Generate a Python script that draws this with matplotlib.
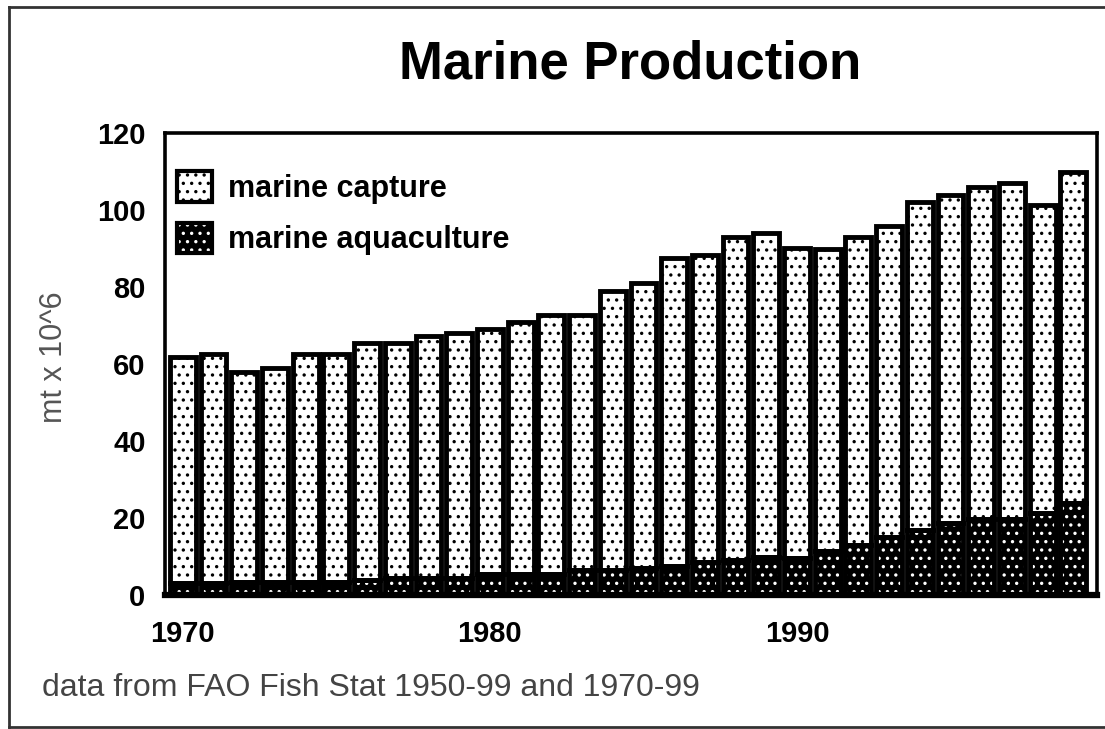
import matplotlib
matplotlib.use("Agg")
import matplotlib.pyplot as plt
from matplotlib.patches import Rectangle
from matplotlib.legend_handler import HandlerTuple
from matplotlib.lines import Line2D

plt.rcParams['font.family'] = ['Liberation Sans', 'DejaVu Sans']
plt.rcParams['hatch.linewidth'] = 1.2

years = list(range(1970, 2000))
aquaculture = [3.0, 3.0, 3.5, 3.5, 3.5, 3.5, 3.8, 4.5, 4.5, 4.5,
               5.5, 5.5, 5.5, 6.5, 6.5, 7.0, 7.5, 8.5, 9.0, 10.0,
               9.5, 11.5, 13.0, 15.0, 17.0, 18.7, 19.7, 19.7, 21.3, 24.0]
capture = [58.8, 59.6, 54.5, 55.5, 59.2, 59.2, 61.7, 61.0, 62.8, 63.5,
           63.5, 65.5, 67.1, 66.1, 72.5, 74.0, 80.0, 79.8, 84.0, 84.0,
           80.5, 78.5, 80.0, 80.8, 85.0, 85.3, 86.3, 87.3, 80.0, 86.0]
xticks = [1970, 1980, 1990]
yticks = [0, 20, 40, 60, 80, 100, 120]

fig = plt.figure(figsize=(11.05, 7.29), dpi=100)
ax = fig.add_axes([165/1105, 1-595/729, 932/1105, 462/729])

W = 0.84
LW = 3.5
# aquaculture: black fill, white dots
ax.bar(years, aquaculture, width=W, facecolor='black', edgecolor='white',
       hatch='..', linewidth=0, zorder=2)
ax.bar(years, aquaculture, width=W, facecolor='none', edgecolor='black',
       linewidth=LW, zorder=3)
# capture: white fill, black dots
ax.bar(years, capture, bottom=aquaculture, width=W, facecolor='white',
       edgecolor='black', hatch='..', linewidth=LW, zorder=2)

ax.set_xlim(1969.42, 1999.77)
ax.set_ylim(0, 120)
ax.set_xticks(xticks)
ax.set_xticklabels([str(t) for t in xticks], fontsize=21, fontweight='bold')
ax.set_yticks(yticks)
ax.set_yticklabels([str(t) for t in yticks], fontsize=21, fontweight='bold')
ax.tick_params(axis='both', length=0)
ax.tick_params(axis='y', pad=14)
ax.tick_params(axis='x', pad=18)
for s in ax.spines.values():
    s.set_linewidth(2.6)
    s.set_color('black')
    s.set_zorder(5)
ax.spines['bottom'].set_linewidth(4.5)

# legend handles
cap_h = Rectangle((0, 0), 1, 1, facecolor='white', edgecolor='black', hatch='..', linewidth=3)
aq_fill = Rectangle((0, 0), 1, 1, facecolor='black', edgecolor='white', hatch='..', linewidth=0)
aq_edge = Rectangle((0, 0), 1, 1, facecolor='none', edgecolor='black', linewidth=3)
leg = ax.legend([cap_h, (aq_fill, aq_edge)], ['marine capture', 'marine aquaculture'],
                handler_map={tuple: HandlerTuple(ndivide=1, pad=0)},
                loc='upper left', bbox_to_anchor=(0.013, 0.917), frameon=False,
                borderaxespad=0, borderpad=0, handlelength=1.15, handleheight=1.15,
                handletextpad=0.5, labelspacing=0.62,
                prop={'size': 22, 'weight': 'bold'})

fig.text(0.570, 0.911, 'Marine Production', fontsize=38, fontweight='bold',
         ha='center', va='center')
fig.text(54/1105, 1-357/729, 'mt x 10^6', fontsize=22, color='#555555',
         rotation=90, ha='center', va='center')
fig.text(42/1105, 1-688/729, 'data from FAO Fish Stat 1950-99 and 1970-99',
         fontsize=23, color='#444444', ha='left', va='center')

# figure border (left, top, bottom)
for xs, ys in [([9/1105, 9/1105], [1-7/729, 1-727/729]),
               ([9/1105, 1.0], [1-7/729, 1-7/729]),
               ([9/1105, 1.0], [1-727/729, 1-727/729])]:
    fig.add_artist(Line2D(xs, ys, color='#333333', linewidth=2, transform=fig.transFigure))

fig.savefig('out.png', dpi=100)
